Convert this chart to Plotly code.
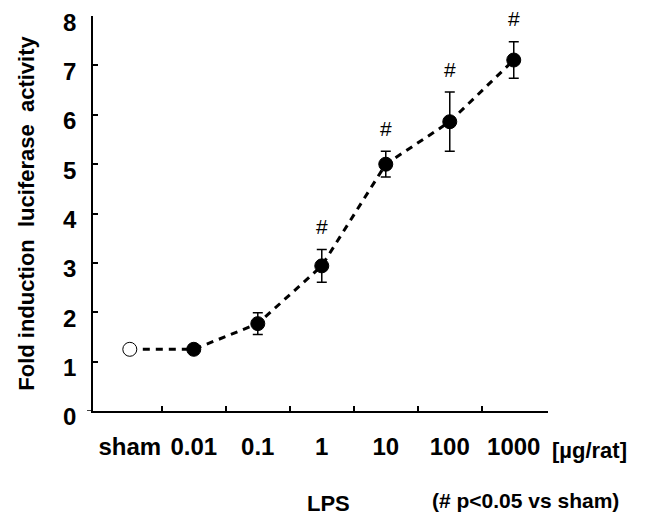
import plotly.graph_objects as go

categories = ["sham", "0.01", "0.1", "1", "10", "100", "1000"]
fold_induction = [1.25, 1.25, 1.77, 2.94, 5.00, 5.86, 7.11]
sem = [0.05, 0.05, 0.22, 0.33, 0.26, 0.60, 0.37]
significant = [False, False, False, True, True, True, True]
y_ticks = [0, 1, 2, 3, 4, 5, 6, 7, 8]

FONT = "Liberation Sans, Arial, sans-serif"
xpos = list(range(len(categories)))

fig = go.Figure()

# dashed connecting line
fig.add_trace(go.Scatter(
    x=xpos, y=fold_induction, mode="lines",
    line=dict(color="black", width=3, dash="7px,6px"),
    hoverinfo="skip", showlegend=False))

# markers with error bars
fig.add_trace(go.Scatter(
    x=xpos, y=fold_induction, mode="markers",
    marker=dict(size=14,
                color=["white" if c == "sham" else "black" for c in categories],
                line=dict(color="black", width=1)),
    error_y=dict(type="data", array=sem, visible=True,
                 color="black", thickness=1.5, width=5),
    showlegend=False))

# significance marks
for xi, yi, ei, s in zip(xpos, fold_induction, sem, significant):
    if s:
        fig.add_annotation(x=xi, y=yi + ei, yshift=23, text="#", showarrow=False,
                           font=dict(family=FONT, size=21, color="black"),
                           xanchor="center", yanchor="middle")

fig.add_annotation(x=1.0, xref="paper", xanchor="left", xshift=2,
                   y=-0.1, yref="paper", yanchor="middle",
                   text="<b>[µg/rat]</b>", showarrow=False,
                   font=dict(family=FONT, size=22, color="black"))
fig.add_annotation(x=3.1, xref="x", xanchor="center",
                   y=-0.235, yref="paper", yanchor="middle",
                   text="<b>LPS</b>", showarrow=False,
                   font=dict(family=FONT, size=22, color="black"))
fig.add_annotation(x=6.19, xref="x", xanchor="center",
                   y=-0.226, yref="paper", yanchor="middle",
                   text="<b>(# p&lt;0.05 vs sham)</b>", showarrow=False,
                   font=dict(family=FONT, size=21, color="black"))

# short extension of the x axis line to the left of the y axis
fig.add_shape(type="line", xref="paper", xsizemode="pixel", xanchor=0,
              x0=-6, x1=0, yref="y", y0=0, y1=0,
              line=dict(color="black", width=1.5))

fig.update_layout(
    width=642, height=508,
    margin=dict(l=85, r=102, t=8, b=105, autoexpand=False),
    paper_bgcolor="white", plot_bgcolor="white",
    font=dict(family=FONT, color="black"),
    xaxis=dict(
        range=[-0.575, 6.535], automargin=False,
        tickmode="array", tickvals=xpos, ticktext=[f"<b>{c}</b>" for c in categories],
        ticks="", showgrid=False, zeroline=False,
        showline=True, linecolor="black", linewidth=1.5,
        tickfont=dict(family=FONT, size=24, color="black"),
        ticklabelstandoff=13,
        minor=dict(tickmode="array", tickvals=[i + 0.5 for i in xpos[:-1]],
                   ticks="inside", ticklen=5, tickwidth=1.5, tickcolor="black",
                   showgrid=False),
    ),
    yaxis=dict(
        range=[0, 8.002], automargin=False, tickmode="array", tickvals=y_ticks,
        ticktext=[f"<b>{v}</b>" for v in y_ticks],
        ticks="inside", ticklen=5, tickwidth=1.5, tickcolor="black",
        showgrid=False, zeroline=False,
        showline=True, linecolor="black", linewidth=1.5,
        tickfont=dict(family=FONT, size=24, color="black"),
        ticklabelstandoff=10, ticklabelshift=6, ticklabeloverflow="allow",
        title=dict(text="<b>Fold induction\u00a0\u00a0luciferase\u00a0\u00a0activity</b>",
                   font=dict(family=FONT, size=22, color="black"), standoff=22),
    ),
)

fig.write_html("out.html")
